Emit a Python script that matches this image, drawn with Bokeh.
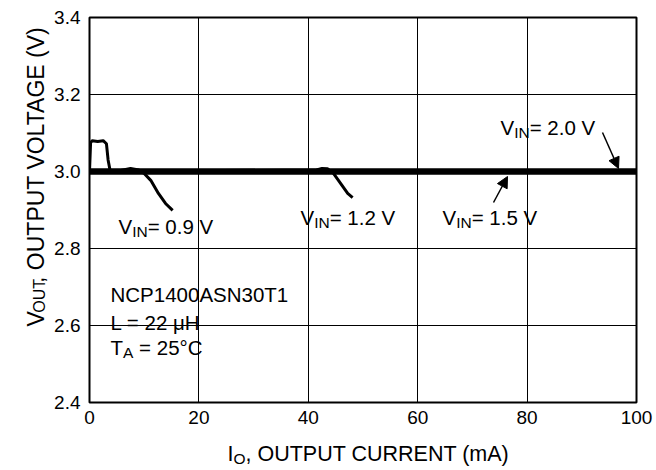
import math
from bokeh.plotting import figure
from bokeh.layouts import column, row
from bokeh.models import (Label, Arrow, NormalHead, FixedTicker, Range1d,
                          CustomJSTickFormatter)
from bokeh.embed import file_html
from bokeh.resources import INLINE

# ---- data ----
x_ticks = [0, 20, 40, 60, 80, 100]
y_ticks = [2.4, 2.6, 2.8, 3.0, 3.2, 3.4]

vin20_x = [0, 100]
vin20_y = [3.0, 3.0]

vin15_x = [0, 100]
vin15_y = [3.0, 3.0]

vin12_x = [0, 41.5, 42.5, 43.5, 44.6, 45.9, 47.2, 48.1]
vin12_y = [3.0, 3.004, 3.008, 3.007, 2.995, 2.969, 2.943, 2.932]

vin09_x = [0, 0.2, 0.5, 1.5, 2.5, 3.1, 3.4, 3.8, 5.5, 7.5, 9.0, 10.0, 11.2, 12.6, 13.9, 15.2]
vin09_y = [3.0, 3.075, 3.08, 3.078, 3.08, 3.072, 3.03, 3.0, 3.002, 3.008, 3.004, 2.995, 2.977, 2.943, 2.917, 2.899]

FONT = "Liberation Sans"

# page geometry (pixels)
TOTAL_W, TOTAL_H = 656, 470
YT_W = 50                 # strip for the y-axis title
MAIN_H = 435              # main figure height
FL, FT, FW, FH = 89, 17, 547, 385
X0, X1, Y0, Y1 = 0.0, 100.0, 2.4, 3.4
BASE_FIX = -8             # renderer draws alphabetic baseline ~8px low


def dx(px):
    return X0 + (px - FL) / FW * (X1 - X0)


def dy(py):
    return Y1 - (py - FT) / FH * (Y1 - Y0)


W = {
    'V': .667, 'I': .278, 'N': .722, 'O': .778, 'U': .722, 'T': .611, '=': .584,
    ' ': .278, '.': .278, ',': .278, 'P': .667, 'L': .556, 'A': .667, 'G': .778,
    'E': .667, 'C': .722, 'R': .722, '(': .333, ')': .333, 'm': .833, 'H': .722,
    'μ': .576, '°': .4, 'S': .667,
}
for d in "0123456789":
    W[d] = .556


def tw(s, size):
    return sum(W.get(c, 0.6) for c in s) * size


p = figure(width=TOTAL_W - YT_W, height=MAIN_H, output_backend="svg",
           toolbar_location=None, title=None,
           x_range=Range1d(X0, X1), y_range=Range1d(Y0, Y1),
           min_border_left=FL - YT_W, min_border_right=TOTAL_W - FL - FW,
           min_border_top=FT, min_border_bottom=MAIN_H - FT - FH)
p.background_fill_color = "white"
p.border_fill_color = "white"
p.outline_line_color = "black"
p.outline_line_width = 2

for ax in (p.xaxis[0], p.yaxis[0]):
    ax.axis_line_color = None
    ax.major_tick_line_color = None
    ax.minor_tick_line_color = None
    ax.major_tick_out = 0
    ax.major_tick_in = 0
    ax.minor_tick_out = 0
    ax.minor_tick_in = 0
    ax.major_label_text_font = FONT
    ax.major_label_text_font_size = "19px"
    ax.major_label_text_color = "black"

p.xaxis[0].ticker = FixedTicker(ticks=x_ticks)
p.yaxis[0].ticker = FixedTicker(ticks=y_ticks)
p.xaxis[0].major_label_standoff = 8
p.yaxis[0].major_label_standoff = 9
p.yaxis[0].formatter = CustomJSTickFormatter(code="return tick.toFixed(1);")

p.xgrid.ticker = FixedTicker(ticks=x_ticks)
p.ygrid.ticker = FixedTicker(ticks=y_ticks)
for g in (p.xgrid[0], p.ygrid[0]):
    g.grid_line_color = "black"
    g.grid_line_width = 1

# curves
p.line(vin20_x, vin20_y, line_color="black", line_width=6)
p.line(vin15_x, vin15_y, line_color="black", line_width=6)
p.line(vin12_x, vin12_y, line_color="black", line_width=3, line_join="round")
p.line(vin09_x, vin09_y, line_color="black", line_width=3, line_join="round")


def rich(fig, conv_x, conv_y, x_px, y_px, parts, angle=0.0):
    """parts: list of (text, size, shift_down_px); y_px is the baseline."""
    cum = 0.0
    for text, size, sh in parts:
        # leading spaces collapse in SVG text: advance manually instead
        stripped = text.lstrip(" ")
        cum += tw(text[:len(text) - len(stripped)], size)
        down = sh + BASE_FIX
        if angle == 0:
            lx, ly = x_px + cum, y_px + down
        else:
            lx, ly = x_px + down, y_px - cum
        fig.add_layout(Label(x=conv_x(lx), y=conv_y(ly), text=stripped, angle=angle,
                             text_font=FONT, text_font_size=f"{size}px",
                             text_color="black", text_align="left",
                             text_baseline="alphabetic"))
        cum += tw(stripped, size)


def vin_label(x_px, ymid_px, val):
    base = ymid_px + 7
    rich(p, dx, dy, x_px, base, [("V", 20.5, 0), ("IN", 15.5, 5), (f"= {val} V", 20.5, 0)])


vin_label(118, 227, "0.9")
vin_label(300, 218, "1.2")
vin_label(442, 218, "1.5")
vin_label(500, 128, "2.0")

rich(p, dx, dy, 110, 295 + 7, [("NCP1400ASN30T1", 20.5, 0)])
rich(p, dx, dy, 110, 323 + 7, [("L = 22 μH", 20.5, 0)])
rich(p, dx, dy, 110, 348 + 7, [("T", 20.5, 0), ("A", 15.5, 5), (" = 25°C", 20.5, 0)])

# arrows
p.add_layout(Arrow(end=NormalHead(size=11, fill_color="black", line_color="black"),
                   x_start=dx(602), y_start=dy(132), x_end=dx(618), y_end=dy(168),
                   line_color="black", line_width=1.5))
p.add_layout(Arrow(end=NormalHead(size=11, fill_color="black", line_color="black"),
                   x_start=dx(493), y_start=dy(202), x_end=dx(507), y_end=dy(176),
                   line_color="black", line_width=1.5))


def strip(w, h):
    f = figure(width=w, height=h, output_backend="svg", toolbar_location=None,
               title=None, x_range=Range1d(0, w), y_range=Range1d(0, h),
               x_axis_location=None, y_axis_location=None,
               min_border=0, min_border_left=0, min_border_right=0,
               min_border_top=0, min_border_bottom=0)
    f.outline_line_color = None
    f.xgrid.visible = False
    f.ygrid.visible = False
    f.background_fill_color = "white"
    f.border_fill_color = "white"
    return f


# y-axis title strip (page coordinates -> strip data)
yfig = strip(YT_W, MAIN_H)
rich(yfig, lambda v: v, lambda v: MAIN_H - v, 43, 349,
     [("V", 23, 0), ("OUT", 16, 4), (", OUTPUT VOLTAGE (V)", 23, 0)],
     angle=math.pi / 2)

# x-axis title strip (page coordinates -> strip data)
XT_H = TOTAL_H - MAIN_H
xfig = strip(TOTAL_W, XT_H)
rich(xfig, lambda v: v, lambda v: TOTAL_H - v, 227, 461,
     [("I", 21.5, 0), ("O", 15.5, 5), (", OUTPUT CURRENT (mA)", 21.5, 0)])

layout = column(row(yfig, p, spacing=0), xfig, spacing=0)

open("out.html", "w").write(file_html(layout, INLINE))
